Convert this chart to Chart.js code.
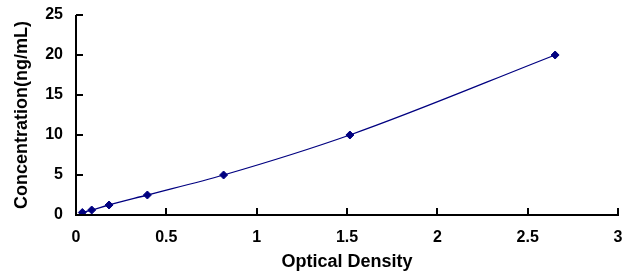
<!DOCTYPE html>
<html><head><meta charset="utf-8">
<script src="https://cdn.jsdelivr.net/npm/chart.js@4/dist/chart.umd.min.js"></script>
<style>html,body{margin:0;padding:0;background:#fff}#wrap{width:632px;height:279px}</style>
</head><body><div id="wrap"><canvas id="c" width="632" height="279"></canvas></div>
<script>
const opticalDensity = [0.035, 0.087, 0.183, 0.395, 0.817, 1.516, 2.652];
const concentration = [0.3125, 0.625, 1.25, 2.5, 5, 10, 20];
const xTicks = [0, 0.5, 1, 1.5, 2, 2.5, 3];
const yTicks = [0, 5, 10, 15, 20, 25];
const xTitle = 'Optical Density';
const yTitle = 'Concentration(ng/mL)';

const points = opticalDensity.map((x, i) => ({x: x, y: concentration[i]}));
const FONT = 'Arial, "Liberation Sans", sans-serif';

const axisPlugin = {
  id: 'axisPlugin',
  afterDatasetsDraw(chart) {
    const ctx = chart.ctx, a = chart.chartArea;
    const xs = chart.scales.x, ys = chart.scales.y;
    ctx.save();
    ctx.strokeStyle = '#000';
    ctx.lineWidth = 2;
    ctx.beginPath();
    ctx.moveTo(a.left, a.top);
    ctx.lineTo(a.left, a.bottom);
    ctx.lineTo(a.right + 1, a.bottom);
    ctx.stroke();
    ctx.lineWidth = 2;
    ctx.beginPath();
    xTicks.forEach(v => { const px = Math.round(xs.getPixelForValue(v)); if (v !== 0) { ctx.moveTo(px, a.bottom); ctx.lineTo(px, a.bottom - 7); } });
    yTicks.forEach(v => { const py = Math.round(ys.getPixelForValue(v)); if (v !== 0) { ctx.moveTo(a.left, py); ctx.lineTo(a.left + 7, py); } });
    ctx.stroke();
    ctx.restore();
  }
};

new Chart(document.getElementById('c'), {
  type: 'scatter',
  data: { datasets: [{
    data: points,
    showLine: true,
    cubicInterpolationMode: 'monotone',
    borderColor: '#000080',
    borderWidth: 1.3,
    backgroundColor: '#000080',
    pointStyle: 'rectRot',
    pointRadius: 4,
    pointBorderWidth: 1,
    pointBorderColor: '#000080',
    pointBackgroundColor: '#000080'
  }]},
  options: {
    responsive: false,
    animation: false,
    devicePixelRatio: 1,
    layout: { padding: { top: 15, right: 14, left: 0, bottom: 0 } },
    plugins: { legend: { display: false }, tooltip: { enabled: false } },
    scales: {
      x: {
        type: 'linear', min: 0, max: 3,
        afterBuildTicks: s => { s.ticks = xTicks.map(v => ({value: v})); },
        afterFit: s => { s.height = 64; s.paddingLeft = 0; s.paddingRight = 0; },
        grid: { display: false, drawTicks: false },
        border: { display: false },
        ticks: { padding: 13, color: '#000', font: { family: FONT, size: 16, weight: 'bold' }, maxRotation: 0, callback: v => String(v) },
        title: { display: true, text: xTitle, color: '#000', font: { family: FONT, size: 18, weight: 'bold' }, padding: { top: 0, bottom: 6 } }
      },
      y: {
        type: 'linear', min: 0, max: 25,
        afterBuildTicks: s => { s.ticks = yTicks.map(v => ({value: v})); },
        afterFit: s => { s.width = 76; s.paddingTop = 0; s.paddingBottom = 0; },
        grid: { display: false, drawTicks: false },
        border: { display: false },
        ticks: { padding: 13, color: '#000', font: { family: FONT, size: 16, weight: 'bold' }, callback: v => String(v) },
        title: { display: true, text: yTitle, color: '#000', font: { family: FONT, size: 18, weight: 'bold' }, padding: { top: 11, bottom: 0 } }
      }
    }
  },
  plugins: [axisPlugin]
});
</script></body></html>
